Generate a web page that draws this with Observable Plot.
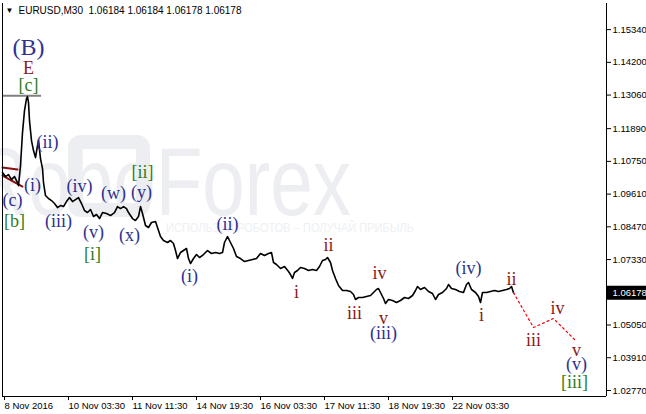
<!DOCTYPE html>
<html><head><meta charset="utf-8">
<script src="https://cdn.jsdelivr.net/npm/d3@7"></script>
<script src="https://cdn.jsdelivr.net/npm/@observablehq/plot@0.6"></script>
<style>
html,body{margin:0;padding:0;background:#fff;overflow:hidden;}
#chart svg{display:block;}
</style></head><body><div id="chart"></div>
<script>
// ---- data ----
const titleText = "EURUSD,M30  1.06184 1.06184 1.06178 1.06178";
const priceTicks = [1.15340,1.14200,1.13060,1.11890,1.10750,1.09610,1.08470,1.07330,1.05050,1.03910,1.02770];
const currentPrice = 1.06178;
const dateTickBars = [3,67,131,195,259,323,387,451];
const dateTickLabels = ["8 Nov 2016","10 Nov 03:30","11 Nov 11:30","14 Nov 19:30","16 Nov 03:30","17 Nov 11:30","18 Nov 19:30","22 Nov 03:30"];

const priceBars = [2,5,8,11,14,17,18,20,22,24,26,27,28,29,31,33,35,37,38,40,42,43,45,48,51,54,57,60,63,66,69,72,75,78,81,84,87,90,93,96,99,102,106,110,114,117,120,123,126,128,132,135,138,140,142,145,148,151,155,158,160,163,167,170,173,175,177,180,183,186,188,190,193,196,199,203,207,211,215,219,222,224,227,230,233,236,240,244,248,252,256,260,264,268,271,273,276,280,284,288,290,292,294,297,300,304,308,312,316,319,322,325,327,330,332,335,338,342,346,350,353,355,358,362,366,370,373,376,378,380,383,385,388,392,396,400,404,408,412,415,417,420,424,428,432,435,438,442,446,448,451,455,459,463,466,468,471,475,478,480,482,486,490,494,498,502,506,509,511,513];
const priceValues = [1.10361,1.10222,1.10291,1.10117,1.10222,1.10013,1.09908,1.10605,1.11754,1.12520,1.12937,1.13007,1.12798,1.12171,1.11475,1.11127,1.10883,1.11301,1.11475,1.10848,1.10500,1.10013,1.09560,1.09456,1.09386,1.09282,1.09142,1.09212,1.09177,1.09351,1.09490,1.09351,1.09421,1.09490,1.09282,1.09038,1.08968,1.09073,1.08829,1.08899,1.08759,1.08968,1.08933,1.08864,1.08968,1.09177,1.09107,1.09177,1.09107,1.08968,1.08759,1.08690,1.08829,1.09177,1.08933,1.08516,1.08446,1.08620,1.08655,1.08341,1.08133,1.07993,1.07924,1.07993,1.07889,1.07645,1.07366,1.07575,1.07645,1.07715,1.07366,1.07192,1.07366,1.07506,1.07401,1.07506,1.07645,1.07541,1.07575,1.07541,1.07575,1.07924,1.08133,1.07924,1.07715,1.07436,1.07366,1.07262,1.07297,1.07332,1.07366,1.07541,1.07471,1.07541,1.07575,1.07227,1.07158,1.07018,1.07088,1.06914,1.06809,1.06670,1.06879,1.06949,1.07053,1.07018,1.06949,1.06983,1.06949,1.07088,1.07297,1.07332,1.07401,1.07227,1.06949,1.06670,1.06426,1.06252,1.06252,1.06217,1.06113,1.05939,1.06009,1.06009,1.06043,1.06078,1.06183,1.06287,1.06322,1.06183,1.05974,1.05800,1.05939,1.05904,1.05834,1.05904,1.06009,1.05974,1.06078,1.06252,1.06392,1.06287,1.06357,1.06217,1.06148,1.05939,1.06113,1.06183,1.06322,1.06461,1.06322,1.06287,1.06217,1.06183,1.06461,1.06531,1.06287,1.06183,1.06043,1.05834,1.06183,1.06183,1.06217,1.06252,1.06217,1.06252,1.06287,1.06322,1.06392,1.06178];

const forecastBars = [513,533,553,575];
const forecastValues = [1.06178,1.04964,1.05277,1.04511];

const prevWaveABars = [2,17];
const prevWaveAValues = [1.10535,1.10465];
const prevWaveBBars = [2,22];
const prevWaveBValues = [1.10256,1.09873];

const levelBars = [2,41];
const levelValue = 1.1304;

const waveTexts   = ["(B)","E","[c]","(c)","[b]","(i)","(ii)","(iii)","(iv)","(v)","[i]","(w)","(x)","(y)","[ii]","(i)","(ii)","i","ii","iii","iv","v","(iii)","(iv)","i","ii","iii","iv","v","(v)","[iii]"];
const waveBars    = [28,28,28,12,14,32,47,58,79,93,92,113,129,141,142,189,227,296,328,354,379,383,383,468,481,511,533,557,576,576,574];
const wavePrices  = [1.14713,1.13982,1.13390,1.09386,1.08655,1.09908,1.11406,1.08655,1.09873,1.08272,1.07506,1.09630,1.08167,1.09665,1.10361,1.06740,1.08550,1.06183,1.07819,1.05451,1.06844,1.05277,1.04755,1.07018,1.05382,1.06640,1.04511,1.05625,1.04163,1.03676,1.03049];
const waveDegrees = ["primary","inter","minor","minute","minor","minute","minute","minute","minute","minute","minor","minute","minute","minute","minor","minute","minute","minuette","minuette","minuette","minuette","minuette","minute","minute","minuette","minuette","minuette","minuette","minuette","minute","minor"];

// ---- tables ----
const price = priceBars.map((b,i)=>({bar:b, price:priceValues[i]}));
const forecast = forecastBars.map((b,i)=>({bar:b, price:forecastValues[i]}));
const prevA = prevWaveABars.map((b,i)=>({bar:b, price:prevWaveAValues[i]}));
const prevB = prevWaveBBars.map((b,i)=>({bar:b, price:prevWaveBValues[i]}));
const waves = waveTexts.map((t,i)=>({text:t, bar:waveBars[i], price:wavePrices[i], degree:waveDegrees[i]}));

const BLUE = "#2e3192", RED = "#8b1a1a", GREEN = "#2f7d1f";
const serif = "Liberation Serif, Times New Roman, serif";
const xDomain = [2,606], yDomain = [1.0256,1.1625];

function watermark(index, scales, values, dim) {
  const g = d3.create("svg:g");
  g.append("rect").attr("x",75).attr("y",142).attr("width",68).attr("height",68)
    .attr("rx",6).attr("fill","none").attr("stroke","#eceef1").attr("stroke-width",14);
  g.append("text").attr("x",162).attr("y",215).attr("textLength",378)
    .attr("lengthAdjust","spacingAndGlyphs")
    .attr("font-family","Liberation Sans, Arial, sans-serif").attr("font-size",97)
    .attr("fill","#eceef1").text("RoboForex");
  g.append("text").attr("x",290).attr("y",232).attr("textLength",248)
    .attr("lengthAdjust","spacingAndGlyphs")
    .attr("font-family","Liberation Sans, Arial, sans-serif").attr("font-size",13)
    .attr("fill","#eef0f3").text("ИСПОЛЬЗУЙ РОБОТОВ – ПОЛУЧАЙ ПРИБЫЛЬ");
  return g.node();
}

const labelMark = (deg, color, size) => Plot.text(waves.filter(d=>d.degree===deg), {
  x:"bar", y:"price", text:"text", fill:color, fontFamily:serif, fontSize:size
});

const chart = Plot.plot({
  width: 646, height: 414,
  marginLeft: 2, marginRight: 40, marginTop: 3, marginBottom: 18,
  x: {domain: xDomain, label: null},
  y: {domain: yDomain, label: null},
  style: {fontFamily: "Liberation Sans, Arial, sans-serif", fontSize: "10px", color: "#000", background: "#fff"},
  marks: [
    watermark,
    Plot.ruleY([levelValue], {x1: levelBars[0], x2: levelBars[1], stroke: "#808080", strokeWidth: 2}),
    Plot.line(prevA, {x:"bar", y:"price", stroke: "#8b1010", strokeWidth: 2}),
    Plot.line(prevB, {x:"bar", y:"price", stroke: "#8b1010", strokeWidth: 2}),
    Plot.line(price, {x:"bar", y:"price", stroke: "#000", strokeWidth: 1.6}),
    Plot.line(forecast, {x:"bar", y:"price", stroke: "#ff0000", strokeWidth: 1.2, strokeDasharray: "2,3"}),
    labelMark("primary", BLUE, 24),
    labelMark("inter", RED, 18),
    labelMark("minor", GREEN, 18),
    labelMark("minute", BLUE, 18),
    labelMark("minuette", RED, 18),
    Plot.ruleX([xDomain[0], xDomain[1]], {stroke: "#000", strokeWidth: 1}),
    Plot.ruleY([yDomain[0]], {stroke: "#000", strokeWidth: 1}),
    Plot.axisY(priceTicks, {anchor: "right", label: null, tickFormat: d => d.toFixed(5), tickSize: 4, tickPadding: 2, fontSize: 9.5, fill: "#000", stroke: "#000"}),
    Plot.axisX(dateTickBars, {anchor: "bottom", label: null, tickFormat: d => dateTickLabels[dateTickBars.indexOf(d)], textAnchor: "start", dx: 1, tickSize: 4, tickPadding: 2, fontSize: 9.5, fill: "#000", stroke: "#000"}),
    Plot.ruleY([currentPrice], {x1: 607, x2: 646, stroke: "#000", strokeWidth: 14}),
    Plot.text([currentPrice], {y: d => d, frameAnchor: "right", dx: 6, textAnchor: "start", text: d => d.toFixed(5), fill: "#fff", fontSize: 9.5}),
    Plot.text(["▼"], {frameAnchor: "top-left", dx: 3, dy: 4, fontSize: 8, fill: "#000"}),
    Plot.text([titleText], {frameAnchor: "top-left", dx: 16, dy: 3, fontSize: 10, fill: "#000"})
  ]
});
document.getElementById("chart").appendChild(chart);
</script>
</body></html>
